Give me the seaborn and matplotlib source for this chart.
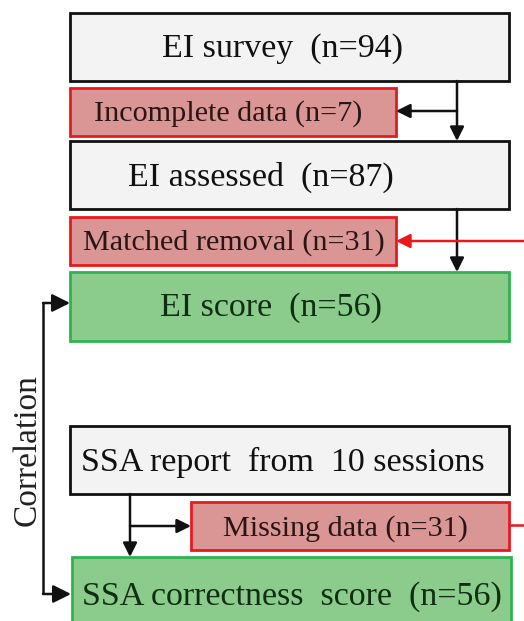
import matplotlib
matplotlib.use("Agg")
import matplotlib.pyplot as plt
from matplotlib.patches import Rectangle
import seaborn as sns

sns.set_theme(style="white")
plt.rcParams['font.family'] = ['Liberation Serif', 'DejaVu Serif']

# ---- content ----
labels = ["EI survey  (n=94)", "Incomplete data (n=7)", "EI assessed  (n=87)",
          "Matched removal (n=31)", "EI score  (n=56)",
          "SSA report  from  10 sessions", "Missing data (n=31)",
          "SSA correctness  score  (n=56)"]
kinds = ["gray", "red", "gray", "red", "green", "gray", "red", "green"]
side_label = "Correlation"

# ---- layout (pixel coords) ----
boxes = [(70, 13, 439, 68), (70, 88, 326, 48), (70, 141, 439, 68),
         (70, 217, 326, 48), (70, 272, 439, 69), (70, 426, 439, 68),
         (191, 502, 318, 48), (72, 557, 439, 90)]
text_pos = [(283, 49), (228, 114), (261, 177), (234, 243), (271, 308),
            (283, 462), (345, 529), (292, 597)]
styles = {
    "gray": dict(fc="#f3f3f3", ec="#111111", tc="#111111", fs=24.5),
    "red": dict(fc="#d99694", ec="#e8191c", tc="#2a1515", fs=21.7),
    "green": dict(fc="#8bcb8c", ec="#2fb350", tc="#0f2e12", fs=24.5),
}

fig = plt.figure(figsize=(5.24, 6.21), dpi=100)
ax = fig.add_axes([0, 0, 1, 1])
ax.set_xlim(0, 524)
ax.set_ylim(621, 0)
ax.axis("off")

for lab, kind, (x, y, w, h), (tx, ty) in zip(labels, kinds, boxes, text_pos):
    st = styles[kind]
    ax.add_patch(Rectangle((x, y), w, h, facecolor=st["fc"], edgecolor=st["ec"], lw=2, zorder=2))
    ax.text(tx, ty, lab, ha="center", va="center", fontsize=st["fs"], color=st["tc"], zorder=3)


def arrow(p0, p1, color="#111111", ms=21):
    ax.annotate("", xy=p1, xytext=p0,
                arrowprops=dict(arrowstyle="-|>", color=color, lw=1.8,
                                mutation_scale=ms, shrinkA=0, shrinkB=0), zorder=4)


def line(xs, ys, color="#111111"):
    ax.plot(xs, ys, color=color, lw=1.8, zorder=4, solid_capstyle="butt")

# EI flow
arrow((457, 81), (457, 141))
arrow((457, 111), (396, 111))
arrow((457, 209), (457, 272))
arrow((530, 241), (396, 241), color="#e8191c")
# SSA flow
arrow((130, 494), (130, 557))
arrow((130, 526), (191, 526))
line([509, 530], [525, 525], color="#e8191c")
# correlation
line([43, 43], [303, 594])
arrow((43, 303), (70, 303), ms=27)
arrow((43, 594), (71, 594), ms=27)
ax.text(27, 450, side_label, rotation=90, ha="center", va="center", fontsize=24, color="#222222")

fig.savefig("out.png", dpi=100)
